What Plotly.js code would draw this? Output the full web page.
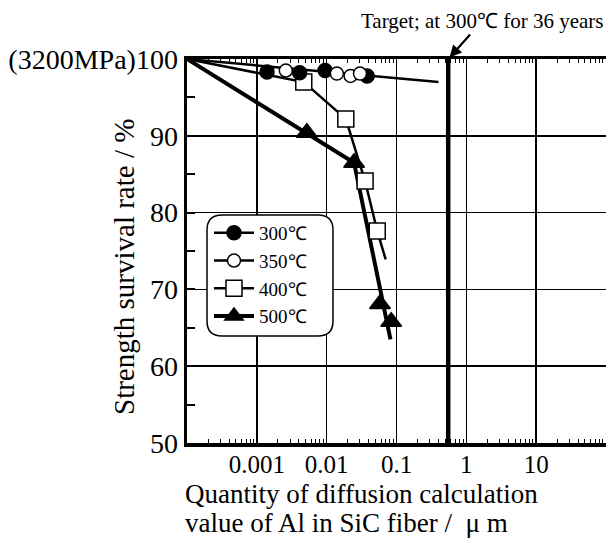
<!DOCTYPE html>
<html>
<head>
<meta charset="utf-8">
<script src="https://cdn.plot.ly/plotly-3.0.1.min.js"></script>
<style>
html, body { margin: 0; padding: 0; overflow: hidden; background: #fff; }
#chart { width: 606px; height: 546px; }
</style>
</head>
<body>
<div id="chart"></div>
<script>
// ---- data ----
const xTickVals = [0.001, 0.01, 0.1, 1, 10];
const xTickText = ['0.001', '0.01', '0.1', '1', '10'];
const yTickVals = [50, 60, 70, 80, 90, 100];
const yTickText = ['50', '60', '70', '80', '90', '(3200MPa)100'];

const seriesNames = ['300℃', '350℃', '400℃', '500℃'];

const x300 = [0.0014, 0.0041, 0.0095, 0.038];
const y300 = [98.3, 98.2, 98.5, 97.8];
const fitX300 = [0.0001, 0.40];
const fitY300 = [100, 97.0];

const x350 = [0.0026, 0.014, 0.022, 0.030];
const y350 = [98.5, 98.1, 97.8, 98.1];
const fitX350 = [];
const fitY350 = [];

const x400 = [0.0047, 0.0188, 0.0355, 0.053];
const y400 = [97.0, 92.2, 84.1, 77.6];
const fitX400 = [0.0001, 0.0047, 0.0188, 0.0355, 0.053, 0.070];
const fitY400 = [100, 97.0, 92.2, 84.1, 77.6, 73.9];

const x500 = [0.0052, 0.0247, 0.058, 0.084];
const y500 = [90.4, 86.5, 68.1, 65.8];
const fitX500 = [0.0001, 0.0052, 0.0247, 0.082];
const fitY500 = [100, 90.4, 86.5, 63.5];

const targetX = [0.55, 0.55];
const targetY = [50, 100];
const targetLabel = 'Target; at 300℃ for 36 years';

const xTitleLines = ['Quantity of diffusion calculation', 'value of Al in SiC fiber /  μ m'];
const yTitle = 'Strength survival rate / %';

// ---- build traces ----
const FONT = "'Liberation Serif', 'Times New Roman', serif";
const CLEAR = 'rgba(0,0,0,0)';

function series(name, dx, dy, fx, fy, sym, fill, size, lw, rank) {
  const x = [], y = [], fc = [], lc = [];
  for (let i = 0; i < dx.length; i++) {
    x.push(dx[i], null); y.push(dy[i], null);
    fc.push(fill, fill); lc.push('black', 'black');
  }
  for (let i = 0; i < fx.length; i++) {
    x.push(fx[i]); y.push(fy[i]); fc.push(CLEAR); lc.push(CLEAR);
  }
  return {
    type: 'scatter', mode: 'lines+markers', name: name, x: x, y: y,
    connectgaps: false, legendrank: rank, hoverinfo: 'skip',
    line: { color: 'black', width: lw },
    marker: { symbol: sym, size: size, color: fc, line: { color: lc, width: 1.5 } }
  };
}

const traces = [
  { type: 'scatter', mode: 'lines', x: targetX, y: targetY, showlegend: false,
    line: { color: 'black', width: 4.5 }, hoverinfo: 'skip' },
  series(seriesNames[3], x500, y500, fitX500, fitY500, 'triangle-up', 'black', 18, 4, 4),
  series(seriesNames[2], x400, y400, fitX400, fitY400, 'square', 'white', 16, 2.5, 3),
  series(seriesNames[0], x300, y300, fitX300, fitY300, 'circle', 'black', 14, 2.5, 1),
  series(seriesNames[1], x350, y350, fitX350, fitY350, 'circle', 'white', 13, 2.5, 2)
];

// minor tick positions on log axis
const minorX = [];
for (let k = -4; k <= 1; k++) for (let m = 2; m <= 9; m++) minorX.push(m * Math.pow(10, k));
const minorY = [55, 65, 75, 85, 95];

// plot area geometry (pixels) for paper-coordinate helpers
const PL = 187, PR = 606, PT = 59, PB = 443;
const px = v => (v - PL) / (PR - PL);
const py = v => (PB - v) / (PB - PT);

// rounded legend frame in paper coords
const L = px(207), R = px(333), T = py(215), B = py(336);
const rx = 15 / (PR - PL), ry = 15 / (PB - PT);
const framePath = `M${L+rx},${T} L${R-rx},${T} Q${R},${T} ${R},${T-ry} L${R},${B+ry} Q${R},${B} ${R-rx},${B} L${L+rx},${B} Q${L},${B} ${L},${B+ry} L${L},${T-ry} Q${L},${T} ${L+rx},${T} Z`;

const layout = {
  width: 606, height: 546,
  margin: { l: PL, r: 606 - PR, t: PT, b: 546 - PB },
  paper_bgcolor: 'white', plot_bgcolor: 'white',
  font: { family: FONT, color: 'black', size: 28 },
  showlegend: true,
  legend: {
    x: px(209), y: py(214), xanchor: 'left', yanchor: 'top',
    bgcolor: CLEAR, borderwidth: 0,
    font: { family: FONT, size: 19, color: 'black' },
    itemwidth: 40, tracegroupgap: 0
  },
  xaxis: {
    type: 'log', range: [-4, 2.0],
    tickmode: 'array', tickvals: xTickVals, ticktext: xTickText,
    showgrid: true, gridcolor: 'black', gridwidth: 1.5,
    showline: true, linecolor: 'black', linewidth: 3.5, mirror: 'ticks',
    ticks: 'inside', ticklen: 5, tickwidth: 1.5, tickcolor: 'black',
    tickfont: { family: FONT, size: 25 }, ticklabelstandoff: -4,
    minor: { tickmode: 'array', tickvals: minorX, ticks: 'inside', ticklen: 4, tickwidth: 1, tickcolor: 'black', showgrid: false },
    zeroline: false
  },
  yaxis: {
    range: [50, 100],
    tickmode: 'array', tickvals: yTickVals, ticktext: yTickText,
    showgrid: true, gridcolor: 'black', gridwidth: 1.5,
    showline: true, linecolor: 'black', linewidth: 3.5, mirror: false,
    ticks: 'inside', ticklen: 8, tickwidth: 2, tickcolor: 'black',
    tickfont: { family: FONT, size: 28 },
    minor: { tickmode: 'array', tickvals: minorY, ticks: 'inside', ticklen: 8, tickwidth: 2, tickcolor: 'black', showgrid: false },
    zeroline: false
  },
  shapes: [
    { type: 'path', xref: 'paper', yref: 'paper', path: framePath, layer: 'above',
      fillcolor: 'white', line: { color: 'black', width: 1.5 } }
  ],
  annotations: [
    { x: Math.log10(targetX[0]), y: targetY[1], xref: 'x', yref: 'y',
      text: targetLabel, showarrow: true, arrowhead: 2, arrowsize: 1.1, arrowwidth: 2.2,
      arrowcolor: 'black', ax: 34, ay: -38, standoff: 2,
      font: { family: FONT, size: 21, color: 'black' } },
    { x: px(183), y: py(494), xref: 'paper', yref: 'paper', xanchor: 'left', yanchor: 'middle',
      text: xTitleLines[0], showarrow: false, font: { family: FONT, size: 27, color: 'black' } },
    { x: px(183), y: py(523), xref: 'paper', yref: 'paper', xanchor: 'left', yanchor: 'middle',
      text: xTitleLines[1], showarrow: false, font: { family: FONT, size: 27, color: 'black' } },
    { x: px(124), y: py(267), xref: 'paper', yref: 'paper', xanchor: 'center', yanchor: 'middle',
      text: yTitle, textangle: -90, showarrow: false, font: { family: FONT, size: 29, color: 'black' } }
  ]
};

Plotly.newPlot('chart', traces, layout, { displayModeBar: false, staticPlot: true });
</script>
</body>
</html>
